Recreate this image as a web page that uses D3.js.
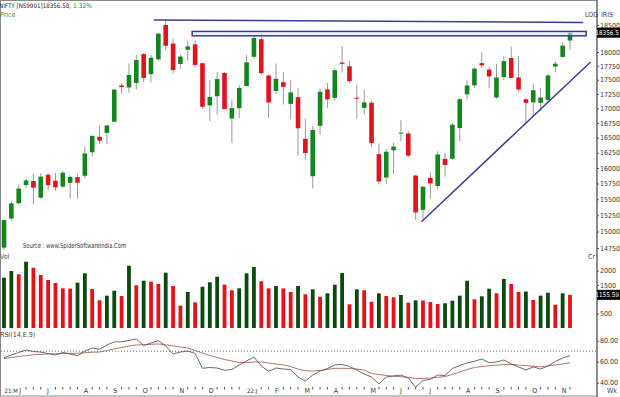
<!DOCTYPE html>
<html>
<head>
<meta charset="utf-8">
<script src="https://cdn.jsdelivr.net/npm/d3@7"></script>
<style>
  body { margin: 0; background: #fff; }
  svg text { font-family: "Liberation Sans Narrow", "Arial Narrow", "DejaVu Sans Condensed", sans-serif; font-size: 7px; }
</style>
</head>
<body>
<svg id="chart" width="620" height="397"></svg>
<script>
// NIFTY weekly, week of 17 May 2021 .. week of 7 Nov 2022
const opens = [14756,15200,15437,15725,15790,15525,15890,15794,15700,15760,15852,15874,16258,16515,16580,16770,17399,17363,17443,17962,
  17600,17867,18500,18154,17783,18040,18140,17796,17051,17210,17619,16824,17001,17387,17913,18235,17575,17301,17456,17076,
  17192,16481,15867,16700,17329,17181,17809,17741,17183,17006,17096,16227,15846,16290,16578,16570,15877,15334,15840,15710,
  16150,16151,16662,17243,17401,17797,17682,17188,17546,17890,17540,17156,17102,17094,17145,17736,17910,18211];
const highs = [15190,15470,15733,15835,15901,15915,15915,15915,15952,15880,15900,16349,16543,16701,16722,17340,17436,17792,17947,17980,
  17948,18350,18604,18242,17954,18210,18210,17806,17489,17639,17640,17155,17400,17944,18286,18350,17599,17794,17639,17490,
  17352,16815,16694,17344,17442,17703,18114,17842,17414,17322,17132,16403,16310,16415,16794,16610,15886,15708,15928,16275,
  16248,16752,17172,17490,17719,17992,17725,17778,17925,18096,17919,17188,17428,17348,17607,17838,18176,18362];
const lows = [14720,15160,15420,15680,15420,15505,15636,15635,15677,15513,15513,15834,16188,16395,16395,16764,17254,17270,17327,17452,
  17452,17840,18034,17612,17697,17836,17717,16990,16782,16891,16984,16410,16833,17384,17880,17585,16837,17244,17064,16809,
  16203,16133,15671,16555,17006,17135,17623,17442,16824,16888,16340,15735,15740,15903,16444,16172,15183,15191,15511,15661,
  15858,16142,16438,17155,17359,17710,17345,17166,17492,17520,17291,16748,16855,16950,17098,17637,17899,18044];
const closes = [15175,15435,15670,15799,15683,15860,15722,15690,15923,15856,15763,16238,16529,16450,16705,17324,17369,17585,17853,17532,
  17895,18339,18115,17672,17917,18102,17765,17026,17197,17511,16985,17003,17354,17812,18256,17617,17102,17516,17375,17276,
  16658,16245,16630,17287,17153,17670,17784,17476,17172,17103,16411,15782,16266,16352,16584,16202,15294,15699,15752,16221,
  16049,16719,17158,17398,17698,17758,17559,17539,17833,17531,17327,17094,17314,17186,17576,17787,18117,18356];
// volume, Rs crore
const volumes = [1753,1986,1871,2310,2101,1847,1672,1568,1383,1373,1578,1906,1359,965,1125,1300,1115,2171,1488,1648,
  1613,1533,1927,1463,777,1254,895,1439,1592,1787,1509,1314,1383,1906,2125,1627,1383,1463,1380,1254,
  1463,1174,1348,1091,1209,1509,1916,826,1348,1314,916,1209,1115,1070,1150,882,965,958,906,836,
  861,951,1125,1648,1000,1105,1369,1209,1707,1533,1254,1272,976,1125,1230,812,1209,1156];
// RSI(14) and its 9 period average
const rsi = [63.8,66.4,68.8,71.1,69.7,69.2,67.8,66.4,68.8,67.3,65.7,70.2,73.0,71.8,75.9,78.8,79.0,80.2,81.6,75.4,
  77.8,80.0,75.0,67.3,69.2,70.2,67.8,53.7,54.5,54.0,51.8,52.6,56.9,60.7,64.5,55.9,50.9,54.0,53.0,52.6,
  45.4,41.6,47.3,51.1,53.5,56.9,57.4,55.4,52.1,48.3,45.4,38.8,45.4,46.4,47.3,44.5,35.6,42.1,43.2,47.3,
  46.9,53.5,56.4,58.8,60.4,62.6,59.0,59.7,61.6,57.8,55.0,52.1,55.0,53.0,55.9,60.2,63.5,65.9];
const rsiSignal = [62.9,64.0,65.0,65.7,66.7,67.0,67.3,67.5,67.8,68.0,68.0,68.5,69.0,69.2,70.7,72.1,73.5,75.0,75.9,76.2,
  76.6,76.9,76.1,75.0,74.0,73.0,70.7,68.3,65.9,64.0,62.1,60.7,59.2,59.2,59.7,59.7,58.8,57.8,56.9,55.4,
  53.0,51.4,51.1,51.6,52.6,53.7,53.7,53.5,53.0,52.1,48.8,47.8,46.9,46.2,45.7,45.0,44.0,44.0,44.5,45.1,
  45.9,47.8,50.2,52.6,54.5,55.4,56.2,56.7,57.3,57.3,56.9,56.2,55.7,55.2,55.9,56.9,57.8,59.0];

const monthTicks = [[0,"21:M"],[2,"J"],[6,"J"],[11,"A"],[15,"S"],[19,"O"],[24,"N"],[28,"D"],[33,"22:J"],[37,"F"],
  [41,"M"],[45,"A"],[50,"M"],[54,"J"],[58,"J"],[63,"A"],[67,"S"],[72,"O"],[76,"N"]];
// 18250 and 1000 sit under the last value boxes
const priceTicks = [14750,15000,15250,15500,15750,16000,16250,16500,16750,17000,17250,17500,17750,18000,18500];
const volTicks = [500,1500,2000];
const rsiTicks = [40,60,80];
const lastPrice = 18356.5;
const lastVol = 1155.59;

// hand drawn studies: [week index, price]
const topLine = [[20.4,18594],[78.8,18547]];
const zone = [[25.6,18380],[79.2,18298]];
const trendLine = [[56.8,15151],[79.8,17818]];

const svg = d3.select("#chart");
const n = closes.length;
const axisX = 597;

const x = d3.scaleLinear().domain([0, n - 1]).range([4, 570]);
const yPrice = d3.scaleLog().domain([14750, 18500]).range([248.1, 25]);
const yVol = d3.scaleLinear().domain([0, 2000]).range([328, 270.6]);
const yRsi = d3.scaleLinear().domain([40, 80]).range([382.7, 340.7]);

const green = "#15851d", red = "#e0141e";
const volGreen = "#0b4a10", volRed = "#e3121b";
const navy = "#3a3d96";

// frame
svg.append("rect").attr("x", 0.5).attr("y", 0.5).attr("width", axisX - 0.5).attr("height", 395.5)
  .attr("fill", "none").attr("stroke", "#8a8a8a");
svg.append("line").attr("x1", axisX).attr("x2", axisX).attr("y1", 0).attr("y2", 397).attr("stroke", "#555");

// header texts
svg.append("text").attr("x", -1).attr("y", 8).attr("fill", "#222").style("font-size", "6.2px")
  .text("NIFTY [NS9901]18356.58,");
svg.append("text").attr("x", 73).attr("y", 8).attr("fill", "#2e8b2e").style("font-size", "6.6px")
  .text("1.32%");
svg.append("text").attr("x", 0).attr("y", 17).attr("fill", "#3a8a3a").text("Price");
svg.append("text").attr("x", 585).attr("y", 16.5).attr("fill", "#444").text("LOG");
svg.append("text").attr("x", 601).attr("y", 16.5).attr("fill", "#444").text("IRIS");
svg.append("text").attr("x", 23).attr("y", 248).attr("fill", "#333")
  .attr("textLength", 103).attr("lengthAdjust", "spacingAndGlyphs").text("Source : www.SpiderSoftwareIndia.Com");
svg.append("text").attr("x", 0).attr("y", 259).attr("fill", "#3a5a3a").text("Vol");
svg.append("text").attr("x", 588).attr("y", 259).attr("fill", "#444").text("Cr");
svg.append("text").attr("x", 0).attr("y", 337).attr("fill", "#2f4f2f").text("RSI(14,E,9)");
svg.append("text").attr("x", 607).attr("y", 393).attr("fill", "#444").text("Wk");

// right axes
function rightAxis(scale, ticks, fmt) {
  const g = svg.append("g").attr("transform", `translate(${axisX},0)`)
    .call(d3.axisRight(scale).tickValues(ticks).tickSize(2).tickPadding(1).tickFormat(fmt));
  g.select(".domain").remove();
  g.selectAll("text").attr("fill", "#333").style("font-size", "7px");
  g.selectAll("line").attr("stroke", "#555");
  return g;
}
rightAxis(yPrice, priceTicks, d3.format("d"));
rightAxis(yVol, volTicks, d3.format("d"));
rightAxis(yRsi, rsiTicks, d3.format(".2f"));

// candles
const weeks = d3.range(n);
const candles = svg.append("g");
candles.selectAll("line").data(weeks).join("line")
  .attr("x1", i => x(i)).attr("x2", i => x(i))
  .attr("y1", i => yPrice(highs[i])).attr("y2", i => yPrice(lows[i]))
  .attr("stroke", "#9a9a9a").attr("stroke-width", 1);
candles.selectAll("rect").data(weeks).join("rect")
  .attr("x", i => x(i) - 2.3).attr("width", 4.6)
  .attr("y", i => yPrice(Math.max(opens[i], closes[i])))
  .attr("height", i => Math.max(1, Math.abs(yPrice(opens[i]) - yPrice(closes[i]))))
  .attr("fill", i => closes[i] >= opens[i] ? green : red);

// studies
const seg = d3.line().x(d => x(d[0])).y(d => yPrice(d[1]));
svg.append("path").attr("d", seg(topLine)).attr("fill", "none").attr("stroke", navy).attr("stroke-width", 1.5);
svg.append("path").attr("d", seg(trendLine)).attr("fill", "none").attr("stroke", navy).attr("stroke-width", 1.5);
svg.append("rect")
  .attr("x", x(zone[0][0])).attr("y", yPrice(zone[0][1]))
  .attr("width", x(zone[1][0]) - x(zone[0][0])).attr("height", yPrice(zone[1][1]) - yPrice(zone[0][1]))
  .attr("fill", "#dfe6ff").attr("fill-opacity", 0.55).attr("stroke", navy).attr("stroke-width", 1.5);

// volume bars, coloured by change from the previous week
svg.append("g").selectAll("rect").data(weeks).join("rect")
  .attr("x", i => x(i) - 1.9).attr("width", 3.8)
  .attr("y", i => yVol(volumes[i])).attr("height", i => yVol(0) - yVol(volumes[i]))
  .attr("fill", i => (i === 0 || volumes[i] >= volumes[i - 1]) ? volGreen : volRed);

// rsi panel
svg.append("line").attr("x1", 1).attr("x2", axisX).attr("y1", yRsi(70)).attr("y2", yRsi(70))
  .attr("stroke", "#666").attr("stroke-dasharray", "1,2");
const rsiLine = d3.line().x((d, i) => x(i)).y(d => yRsi(d));
svg.append("path").attr("d", rsiLine(rsiSignal)).attr("fill", "none").attr("stroke", "#a8685c").attr("stroke-width", 0.9);
svg.append("path").attr("d", rsiLine(rsi)).attr("fill", "none").attr("stroke", "#5a5a5a").attr("stroke-width", 0.9);

// time axis
const labelled = new Set(monthTicks.map(d => d[0]));
svg.append("g").selectAll("line").data(weeks.filter(i => !labelled.has(i) && i !== 1 && i !== 34)).join("line")
  .attr("x1", i => x(i)).attr("x2", i => x(i)).attr("y1", 387).attr("y2", 389.5)
  .attr("stroke", "#555");
svg.append("g").selectAll("text").data(monthTicks).join("text")
  .attr("x", d => x(d[0]) + (d[1].length > 1 ? 0.5 : (d[0] === 2 ? 0.5 : -1))).attr("y", 393).attr("fill", "#333")
  .style("font-size", d => d[1].length > 1 ? "6px" : "7px")
  .text(d => d[1]);

// last value boxes
function valueBox(y, label) {
  svg.append("rect").attr("x", axisX).attr("y", y - 5).attr("width", 23).attr("height", 10).attr("fill", "#000");
  svg.append("text").attr("x", 619).attr("y", y + 2.4).attr("fill", "#fff")
    .attr("text-anchor", "end").style("font-size", "6.4px").text(label);
}
valueBox(yPrice(lastPrice), "18356.5");
valueBox(yVol(lastVol), "1155.59");
</script>
</body>
</html>
